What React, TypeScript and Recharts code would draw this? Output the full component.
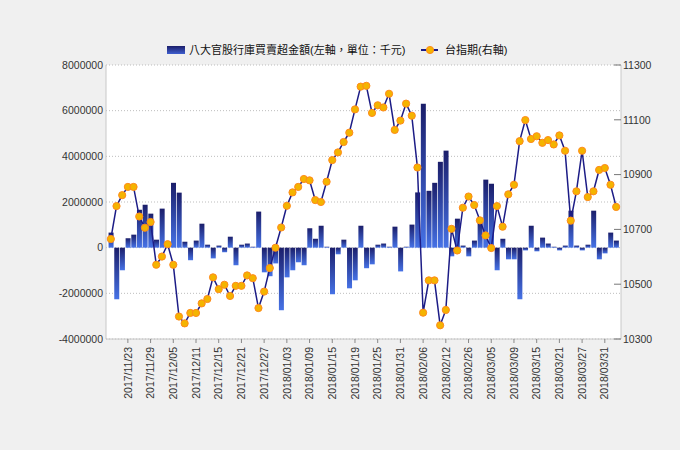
import React from "react";
import { ComposedChart, Bar, Line, XAxis, YAxis, CartesianGrid } from "recharts";

// 交易日 (2017/11/20 ~ 2018/04/03)
const dates = [
    "2017/11/20", "2017/11/21", "2017/11/22", "2017/11/23", "2017/11/24", "2017/11/27", "2017/11/28", "2017/11/29", "2017/11/30", "2017/12/01",
    "2017/12/04", "2017/12/05", "2017/12/06", "2017/12/07", "2017/12/08", "2017/12/11", "2017/12/12", "2017/12/13", "2017/12/14", "2017/12/15",
    "2017/12/18", "2017/12/19", "2017/12/20", "2017/12/21", "2017/12/22", "2017/12/25", "2017/12/26", "2017/12/27", "2017/12/28", "2017/12/29",
    "2018/01/02", "2018/01/03", "2018/01/04", "2018/01/05", "2018/01/08", "2018/01/09", "2018/01/10", "2018/01/11", "2018/01/12", "2018/01/15",
    "2018/01/16", "2018/01/17", "2018/01/18", "2018/01/19", "2018/01/22", "2018/01/23", "2018/01/24", "2018/01/25", "2018/01/26", "2018/01/29",
    "2018/01/30", "2018/01/31", "2018/02/01", "2018/02/02", "2018/02/05", "2018/02/06", "2018/02/07", "2018/02/08", "2018/02/09", "2018/02/12",
    "2018/02/21", "2018/02/22", "2018/02/23", "2018/02/26", "2018/02/27", "2018/03/01", "2018/03/02", "2018/03/05", "2018/03/06", "2018/03/07",
    "2018/03/08", "2018/03/09", "2018/03/12", "2018/03/13", "2018/03/14", "2018/03/15", "2018/03/16", "2018/03/19", "2018/03/20", "2018/03/21",
    "2018/03/22", "2018/03/23", "2018/03/26", "2018/03/27", "2018/03/28", "2018/03/29", "2018/03/30", "2018/03/31", "2018/04/02", "2018/04/03",
];

// 八大官股行庫買賣超金額 (千元)
const amounts = [
    660000, -2260000, -990000, 410000, 570000, 1660000, 1880000, 1490000, 350000, 1710000,
    100000, 2840000, 2410000, 260000, -550000, 310000, 1050000, 130000, -470000, 90000,
    -200000, 480000, -770000, 130000, 180000, 40000, 1580000, -1080000, -1250000, -690000,
    -2740000, -1300000, -990000, -640000, -770000, 850000, 390000, 960000, 40000, -2040000,
    -290000, 350000, -1780000, -1430000, 960000, -900000, -730000, 130000, 180000, 40000,
    920000, -1040000, 40000, 1010000, 2420000, 6300000, 2490000, 2840000, 3760000, 4250000,
    -380000, 1270000, 90000, -380000, 310000, 1200000, 2980000, 2800000, -990000, 390000,
    -510000, -510000, -2260000, -120000, 960000, -160000, 440000, 180000, 40000, -120000,
    90000, 1620000, 90000, -120000, 130000, 1620000, -510000, -250000, 660000, 310000,
];

// 台指期
const futures = [
    10665, 10785, 10825, 10855, 10855, 10747, 10706, 10727, 10571, 10601,
    10646, 10571, 10382, 10357, 10395, 10395, 10430, 10446, 10525, 10482,
    10498, 10457, 10494, 10494, 10532, 10522, 10413, 10473, 10559, 10633,
    10707, 10786, 10835, 10855, 10884, 10879, 10807, 10800, 10874, 10953,
    10981, 11019, 11053, 11138, 11221, 11224, 11125, 11153, 11145, 11195,
    11063, 11097, 11159, 11115, 10926, 10396, 10514, 10514, 10350, 10406,
    10702, 10623, 10779, 10820, 10789, 10733, 10678, 10632, 10785, 10710,
    10828, 10863, 11022, 11099, 11030, 11040, 11016, 11026, 11010, 11043,
    10987, 10732, 10839, 10987, 10818, 10839, 10917, 10924, 10863, 10782,
];

const xTicks = [
    "2017/11/23", "2017/11/29", "2017/12/05", "2017/12/11", "2017/12/15", "2017/12/21", "2017/12/27",
    "2018/01/03", "2018/01/09", "2018/01/15", "2018/01/19", "2018/01/25", "2018/01/31", "2018/02/06",
    "2018/02/12", "2018/02/26", "2018/03/05", "2018/03/09", "2018/03/15", "2018/03/21", "2018/03/27",
    "2018/03/31",
];
const leftTicks = [-4000000, -2000000, 0, 2000000, 4000000, 6000000, 8000000];
const rightTicks = [10300, 10500, 10700, 10900, 11100, 11300];

const rows = dates.map((date, i) => ({ date, amount: amounts[i], futures: futures[i] }));

const FONT = "'Liberation Sans', Arial, 'Noto Sans CJK TC', sans-serif";
const tickStyle = { fontSize: 10.5, fill: "#333", fontFamily: FONT };

function DateTick({ x, y, payload }: any) {
    return (
        <g transform={`translate(${x},${y})`}>
            <text transform="rotate(-90)" textAnchor="end" dy="0.35em" style={tickStyle}>
                {payload.value}
            </text>
        </g>
    );
}

export default function App() {
    return (
        <div style={{ position: "absolute", left: 0, top: 0, width: 680, height: 450, background: "#f0f0f0" }}>
            <div style={{ position: "absolute", left: 0, top: 0 }}>
                <ComposedChart width={680} height={450} data={rows} margin={{ top: 65, right: 0, bottom: 41, left: 0 }}>
                    <defs>
                        <linearGradient id="barGrad" x1="0" y1="0" x2="0" y2="1">
                            <stop offset="0%" stopColor="#1b1e6a" />
                            <stop offset="100%" stopColor="#4672e6" />
                        </linearGradient>
                    </defs>
                    <CartesianGrid
                        yAxisId="left"
                        vertical={false}
                        stroke="#bdbdbd"
                        strokeDasharray="1 2"
                        fill="#ffffff"
                    />
                    <XAxis
                        dataKey="date"
                        ticks={xTicks}
                        interval={0}
                        height={70}
                        padding={{ left: 2, right: 2 }}
                        tick={<DateTick />}
                        tickSize={4}
                        tickMargin={4}
                        tickLine={{ stroke: "#888" }}
                        axisLine={{ stroke: "#c8c8c8" }}
                    />
                    <XAxis
                        xAxisId="top"
                        orientation="top"
                        dataKey="date"
                        height={0}
                        tick={false}
                        tickLine={false}
                        axisLine={{ stroke: "#c8c8c8" }}
                    />
                    <YAxis
                        yAxisId="left"
                        width={106}
                        domain={[-4000000, 8000000]}
                        ticks={leftTicks}
                        interval={0}
                        tick={tickStyle}
                        tickLine={false}
                        tickSize={0}
                        tickMargin={3}
                        axisLine={{ stroke: "#c8c8c8" }}
                    />
                    <YAxis
                        yAxisId="right"
                        orientation="right"
                        width={59}
                        domain={[10300, 11300]}
                        ticks={rightTicks}
                        interval={0}
                        tick={tickStyle}
                        tickSize={-7}
                        tickMargin={9}
                        tickLine={{ stroke: "#777" }}
                        axisLine={{ stroke: "#c8c8c8" }}
                    />
                    <Bar
                        yAxisId="left"
                        dataKey="amount"
                        fill="url(#barGrad)"
                        barCategoryGap="10%"
                        isAnimationActive={false}
                    />
                    <Line
                        yAxisId="right"
                        dataKey="futures"
                        type="linear"
                        stroke="#1c1c86"
                        strokeWidth={1.5}
                        dot={{ r: 3.6, fill: "#f4b400", stroke: "#ff8a1c", strokeWidth: 1 }}
                        activeDot={false}
                        isAnimationActive={false}
                    />
                </ComposedChart>
            </div>
            {/* legend */}
            <div style={{ position: "absolute", left: 167, top: 46, width: 18, height: 8, background: "linear-gradient(#1b1e6a, #3f5fcf)" }} />
            <div style={{ position: "absolute", left: 189, top: 43, height: 14, lineHeight: "14px", fontSize: 11, fontFamily: FONT, color: "#111", whiteSpace: "nowrap" }}>
                八大官股行庫買賣超金額(左軸，單位：千元)
            </div>
            <svg style={{ position: "absolute", left: 421, top: 44 }} width={18} height={12}>
                <line x1={0} y1={6} x2={17} y2={6} stroke="#1c1c86" strokeWidth={2} />
                <circle cx={9} cy={6} r={3.6} fill="#f4b400" stroke="#ff8a1c" strokeWidth={1} />
            </svg>
            <div style={{ position: "absolute", left: 445, top: 43, height: 14, lineHeight: "14px", fontSize: 11, fontFamily: FONT, color: "#111", whiteSpace: "nowrap" }}>
                台指期(右軸)
            </div>
        </div>
    );
}
